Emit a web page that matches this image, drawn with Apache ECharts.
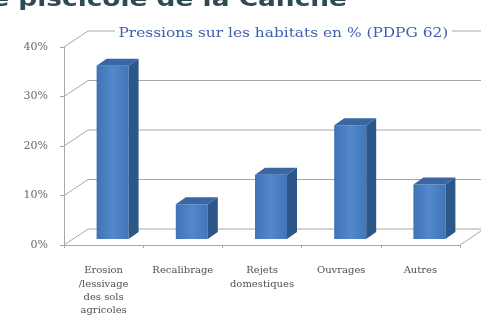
<!DOCTYPE html>
<html>
<head>
<meta charset="utf-8">
<script src="https://cdn.jsdelivr.net/npm/echarts@6/dist/echarts.min.js"></script>
<style>
html, body { margin: 0; padding: 0; background: #fff; }
#chart { width: 481px; height: 318px; }
</style>
</head>
<body>
<div id="chart"></div>
<script>
const categories = ['Erosion\n/lessivage\ndes sols\nagricoles', 'Recalibrage', 'Rejets\ndomestiques', 'Ouvrages', 'Autres'];
const pressures = [35, 7, 13, 23, 11];
const yTicks = [0, 10, 20, 30, 40];

// fake 3D offsets (px)
const WALL_DX = 24, WALL_DY = -16;
const BAR_DX = 9, BAR_DY = -6;
const SIDE_DX = 10, SIDE_DY = -7;
const BAR_W = 32;
const GRID_COLOR = '#a8a8a8';

function renderWall(params, api) {
  const cs = params.coordSys;
  const t = api.value(1);
  const y = api.coord([0, t])[1];
  const x0 = cs.x, x1 = cs.x + cs.width;
  const st = { stroke: GRID_COLOR, lineWidth: 1 };
  const children = [
    { type: 'line', shape: { x1: x0, y1: y, x2: x0 + WALL_DX, y2: y + WALL_DY }, style: st },
    { type: 'line', shape: { x1: x0 + WALL_DX, y1: y + WALL_DY, x2: x1 + WALL_DX, y2: y + WALL_DY }, style: st }
  ];
  if (t === 0) {
    children.push({ type: 'line', shape: { x1: x1, y1: y, x2: x1 + WALL_DX, y2: y + WALL_DY }, style: st });
  }
  return { type: 'group', children: children };
}

function renderBar(params, api) {
  const i = api.value(0);
  const base = api.coord([i, 0]);
  const top = api.coord([i, api.value(1)]);
  const cx = base[0] + BAR_DX;
  const xl = cx - BAR_W / 2, xr = cx + BAR_W / 2;
  const yb = base[1] + BAR_DY, yt = top[1] + BAR_DY;
  return {
    type: 'group',
    children: [
      {
        type: 'rect',
        shape: { x: xl, y: yt, width: BAR_W, height: yb - yt },
        style: {
          fill: new echarts.graphic.LinearGradient(0, 0, 1, 0, [
            { offset: 0, color: '#3f73b6' },
            { offset: 0.5, color: '#5189cb' },
            { offset: 1, color: '#4176b8' }
          ])
        }
      },
      {
        type: 'polygon',
        shape: { points: [[xr, yb], [xr + SIDE_DX, yb + SIDE_DY], [xr + SIDE_DX, yt + SIDE_DY], [xr, yt]] },
        style: { fill: '#2c5788' }
      },
      {
        type: 'polygon',
        shape: { points: [[xl, yt], [xl + SIDE_DX, yt + SIDE_DY], [xr + SIDE_DX, yt + SIDE_DY], [xr, yt]] },
        style: { fill: '#3867a3' }
      }
    ]
  };
}

const chart = echarts.init(document.getElementById('chart'), null, { renderer: 'canvas' });
chart.setOption({
  backgroundColor: '#fff',
  animation: false,
  graphic: [
    {
      // page heading, cut off by the top edge in the scan
      type: 'text',
      x: 347,
      y: 11,
      scaleX: 1.2,
      style: {
        text: 'Contexte piscicole de la Canche',
        align: 'right',
        verticalAlign: 'bottom',
        fontFamily: 'DejaVu Sans',
        fontWeight: 'bold',
        fontSize: 22,
        fill: '#2e4a53'
      }
    },
    {
      // chart title sitting on the back wall's top edge
      type: 'text',
      x: 115,
      y: 33,
      z: 10,
      scaleX: 1.14,
      style: {
        text: 'Pressions sur les habitats en % (PDPG 62)',
        align: 'left',
        verticalAlign: 'middle',
        fontFamily: 'DejaVu Serif',
        fontSize: 13.5,
        fill: '#4060ae',
        backgroundColor: '#fff',
        padding: [0, 3]
      }
    }
  ],
  grid: { left: 64, right: 21, top: 47, bottom: 73 },
  xAxis: {
    type: 'category',
    data: categories,
    axisLine: { lineStyle: { color: GRID_COLOR } },
    axisTick: { show: true, length: 3, lineStyle: { color: GRID_COLOR } },
    axisLabel: {
      interval: 0,
      margin: 19,
      fontFamily: 'DejaVu Serif',
      fontSize: 10,
      lineHeight: 13.3,
      color: '#505050'
    }
  },
  yAxis: {
    type: 'value',
    min: 0,
    max: 40,
    interval: 10,
    axisLine: { show: true, lineStyle: { color: GRID_COLOR } },
    axisTick: { show: true, length: 4, lineStyle: { color: GRID_COLOR } },
    splitLine: { show: false },
    axisLabel: {
      formatter: '{value}%',
      margin: 16,
      fontFamily: 'DejaVu Serif',
      fontSize: 11,
      color: '#6a6a6a'
    }
  },
  series: [
    {
      name: 'walls',
      type: 'custom',
      renderItem: renderWall,
      data: yTicks.map(t => [0, t]),
      clip: false,
      silent: true,
      z: 1
    },
    {
      name: 'Pressions',
      type: 'custom',
      renderItem: renderBar,
      data: pressures.map((v, i) => [i, v]),
      clip: false,
      z: 3
    }
  ]
});
</script>
</body>
</html>
